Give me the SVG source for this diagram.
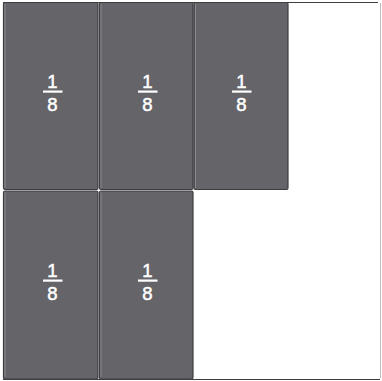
<svg xmlns="http://www.w3.org/2000/svg" width="382" height="381" viewBox="0 0 382 381">
<style>
.piece{fill:#646469;stroke:#3e3e42;stroke-width:1.2}
.hl{stroke:#8a8a8e;stroke-width:1}
.num{font-family:"Liberation Sans",Arial,sans-serif;font-size:18.5px;fill:#ffffff;stroke:#ffffff;stroke-width:0.5;text-anchor:middle}
.bar{fill:#ffffff}
</style>
<rect x="0" y="0" width="382" height="381" fill="#ffffff"/>
<g id="frame">
<line x1="3" y1="2.5" x2="378" y2="2.5" stroke="#3e3e42" stroke-width="1.2"/>
<line x1="380.5" y1="3" x2="380.5" y2="378" stroke="#bdbdbd" stroke-width="1"/>
<line x1="3" y1="379.5" x2="380" y2="379.5" stroke="#3e3e42" stroke-width="1.2"/>
</g>
<g id="p1"><rect class="piece" x="3.5" y="2.5" width="94.5" height="187" rx="1.5"/><line class="hl" x1="5" y1="4" x2="5" y2="188"/><text class="num" x="52.5" y="88">1</text><rect class="bar" x="43" y="90.5" width="19.5" height="2.2"/><text class="num" x="52.5" y="110.5">8</text></g>
<g id="p2"><rect class="piece" x="99.5" y="2.5" width="93.5" height="187" rx="1.5"/><line class="hl" x1="101" y1="4" x2="101" y2="188"/><text class="num" x="147.5" y="88">1</text><rect class="bar" x="138" y="90.5" width="19.5" height="2.2"/><text class="num" x="147.5" y="110.5">8</text></g>
<g id="p3"><rect class="piece" x="194" y="2.5" width="94" height="187" rx="1.5"/><line class="hl" x1="195.5" y1="4" x2="195.5" y2="188"/><text class="num" x="241.5" y="88">1</text><rect class="bar" x="232" y="90.5" width="19.5" height="2.2"/><text class="num" x="241.5" y="110.5">8</text></g>
<g id="p4"><rect class="piece" x="3.5" y="191" width="94.5" height="188" rx="1.5"/><line class="hl" x1="5" y1="192.5" x2="5" y2="377"/><text class="num" x="52.5" y="277">1</text><rect class="bar" x="43" y="279.5" width="19.5" height="2.2"/><text class="num" x="52.5" y="299.5">8</text></g>
<g id="p5"><rect class="piece" x="99.5" y="191" width="93.5" height="188" rx="1.5"/><line class="hl" x1="101" y1="192.5" x2="101" y2="377"/><text class="num" x="147.5" y="277">1</text><rect class="bar" x="138" y="279.5" width="19.5" height="2.2"/><text class="num" x="147.5" y="299.5">8</text></g>
<g id="connectors"></g>
</svg>
